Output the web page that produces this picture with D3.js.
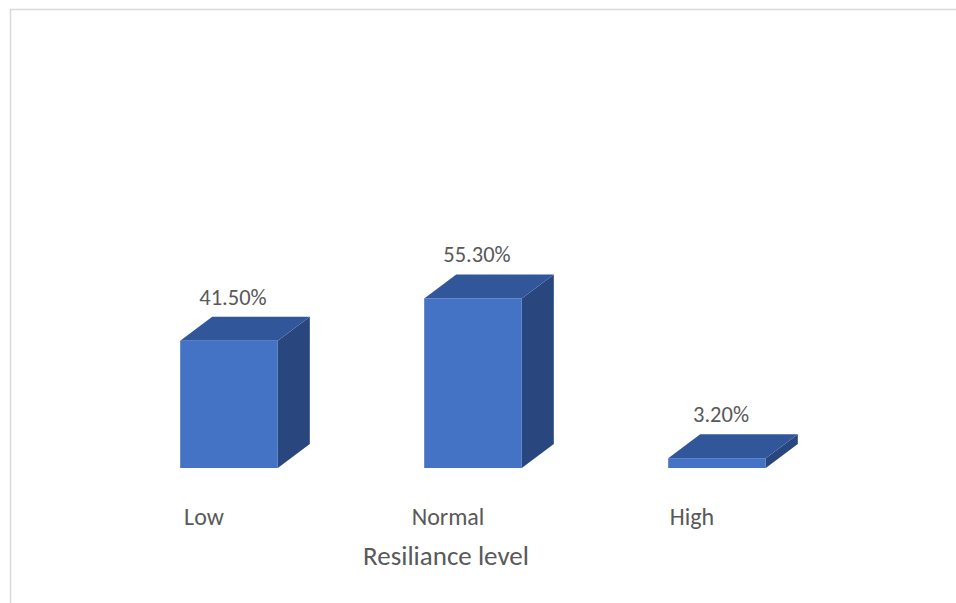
<!DOCTYPE html>
<html>
<head>
<meta charset="utf-8">
<script src="https://cdn.jsdelivr.net/npm/d3@7"></script>
<style>
  body { margin: 0; background: #fff; }
  text { font-family: Carlito, Lato, 'Open Sans', sans-serif; fill: #595959; }
</style>
</head>
<body>
<div id="container"></div>
<script>
const width = 956;
const height = 603;

const categories = ['Low', 'Normal', 'High'];
const values = [41.5, 55.3, 3.2];
const valueLabels = ['41.50%', '55.30%', '3.20%'];
const axisTitle = 'Resiliance level';

// depth of the fake 3d box
const DX = 32;
const DY = -24;

const x = d3.scaleBand()
    .domain(categories)
    .range([107, 839])
    .paddingInner(0.6)
    .paddingOuter(0.3);

const y = d3.scaleLinear()
    .domain([0, 60])
    .range([468, 284]);

const svg = d3.select('#container').append('svg')
    .attr('width', width)
    .attr('height', height);

// chart frame
svg.append('rect')
    .attr('x', 10.5)
    .attr('y', 9.5)
    .attr('width', 960)
    .attr('height', 620)
    .attr('fill', 'none')
    .attr('stroke', '#d9d9d9')
    .attr('stroke-width', 1.5);

const data = categories.map((c, i) => ({ cat: c, value: values[i], label: valueLabels[i] }));
const bw = x.bandwidth();

const bar = svg.append('g')
    .selectAll('g')
    .data(data)
    .join('g');

// side face
bar.append('path')
    .attr('fill', '#29477e')
    .attr('d', d => {
        const x1 = x(d.cat) + bw, y0 = y(0), y1 = y(d.value);
        return `M${x1},${y0}L${x1},${y1}L${x1 + DX},${y1 + DY}L${x1 + DX},${y0 + DY}Z`;
    });

// top face
bar.append('path')
    .attr('fill', '#32569a')
    .attr('d', d => {
        const x0 = x(d.cat), x1 = x0 + bw, y1 = y(d.value);
        return `M${x0},${y1}L${x1},${y1}L${x1 + DX},${y1 + DY}L${x0 + DX},${y1 + DY}Z`;
    });

// front face
bar.append('rect')
    .attr('fill', '#4472c4')
    .attr('x', d => x(d.cat))
    .attr('y', d => y(d.value))
    .attr('width', bw)
    .attr('height', d => y(0) - y(d.value));

bar.append('text')
    .attr('x', d => x(d.cat) + bw / 2 + 4)
    .attr('y', d => y(d.value) + DY - 12)
    .attr('text-anchor', 'middle')
    .attr('font-size', 22.5)
    .text(d => d.label);

// category labels
svg.append('g')
    .selectAll('text')
    .data(categories)
    .join('text')
    .attr('x', d => x(d) + bw / 2 - 25)
    .attr('y', 525)
    .attr('text-anchor', 'middle')
    .attr('font-size', 24)
    .text(d => d);

svg.append('text')
    .attr('x', 446)
    .attr('y', 565)
    .attr('text-anchor', 'middle')
    .attr('font-size', 27)
    .text(axisTitle);
</script>
</body>
</html>
